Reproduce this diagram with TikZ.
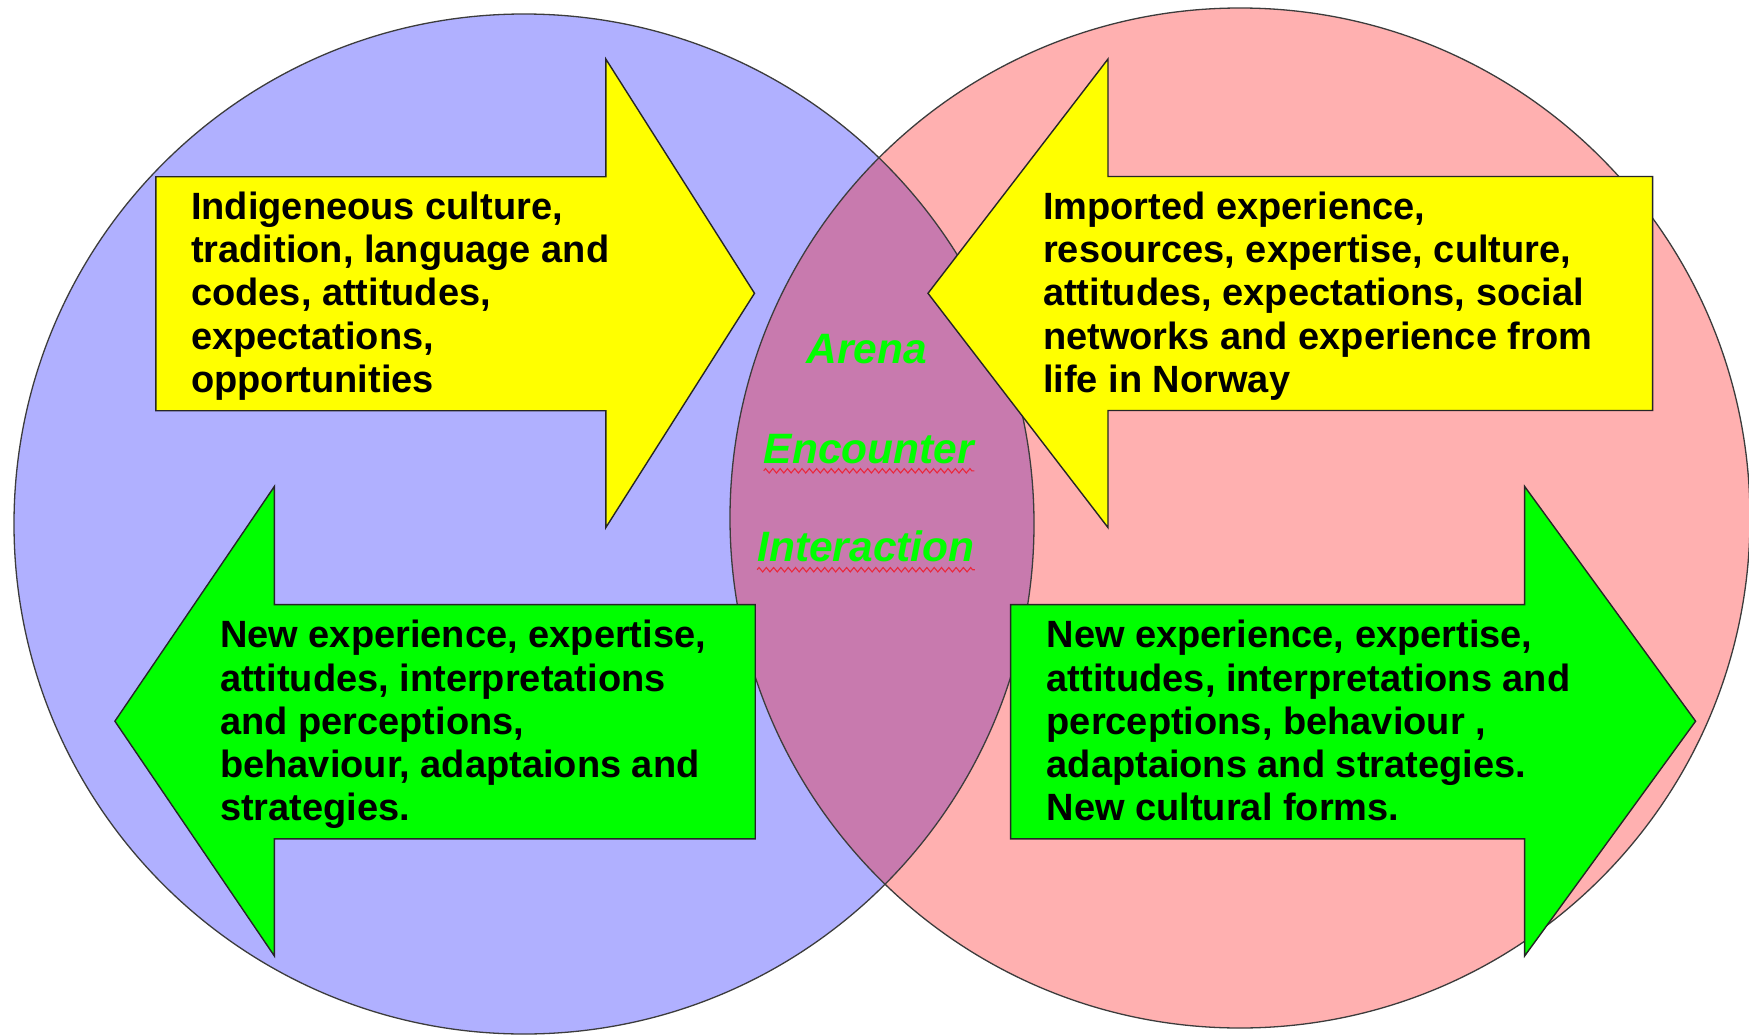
\documentclass[tikz,border=0pt]{standalone}
\usepackage{fontspec}
\setmainfont{Liberation Sans}
\usetikzlibrary{decorations.pathmorphing}
\definecolor{cblue}{RGB}{176,176,255}
\definecolor{cpink}{RGB}{255,176,176}
\definecolor{cmauve}{RGB}{200,122,174}
\definecolor{cyel}{RGB}{255,255,0}
\definecolor{cgreen}{RGB}{0,255,0}
\definecolor{cline}{RGB}{60,60,60}
\definecolor{cwave}{RGB}{235,40,60}
\tikzset{
  ring/.style={draw=cline,line width=1.3pt},
  yarrow/.style={fill=cyel,draw=black!85,line width=1.4pt,line join=miter},
  garrow/.style={fill=cgreen,draw=black!85,line width=1.4pt,line join=miter},
  boxtext/.style={anchor=base west,inner sep=0pt,align=left,
    font=\bfseries\fontsize{38}{43.3}\selectfont},
  midword/.style={anchor=base,inner sep=0pt,text=cgreen,
    font=\bfseries\itshape\fontsize{42.5}{48}\selectfont},
  wavy/.style={draw=cwave,line width=1.1pt,decorate,
    decoration={zigzag,segment length=7.3pt,amplitude=2.2pt}}
}
\begin{document}
\begin{tikzpicture}[x=1pt,y=-1pt]
\useasboundingbox[fill=white] (0,0) rectangle (1749,1036);
% circles
\fill[cblue] (524,524) circle (510);
\fill[cpink] (1240,518) circle (510);
\begin{scope}
  \clip (524,524) circle (510);
  \fill[cmauve] (1240,518) circle (510);
\end{scope}
\draw[ring] (524,524) circle (510);
\draw[ring] (1240,518) circle (510);
% arrows
\draw[yarrow] (155.8,176.7) -- (605.8,176.7) -- (605.8,59) -- (754.5,293.3)
  -- (605.8,527.6) -- (605.8,410.7) -- (155.8,410.7) -- cycle;
\draw[yarrow] (1652.6,176.5) -- (1108,176.5) -- (1108,59) -- (928,293.3)
  -- (1108,527.6) -- (1108,410.5) -- (1652.6,410.5) -- cycle;
\draw[garrow] (755.2,604.6) -- (274.4,604.6) -- (274.4,486.4) -- (114.9,721.2)
  -- (274.4,956) -- (274.4,838.9) -- (755.2,838.9) -- cycle;
\draw[garrow] (1010.6,604.6) -- (1524.6,604.6) -- (1524.6,486.4) -- (1695.6,721.2)
  -- (1524.6,956) -- (1524.6,838.9) -- (1010.6,838.9) -- cycle;
% texts (anchor = baseline of the last line)
\node[boxtext] (t1) at (191,392.5) {Indigeneous culture,\\tradition, language and\\codes, attitudes,\\expectations,\\opportunities};
\node[boxtext] (t2) at (1043,392.5) {Imported experience,\\resources, expertise, culture,\\attitudes, expectations, social\\networks and experience from\\life in Norway};
\node[boxtext] (t3) at (220,820.9) {New experience, expertise,\\attitudes, interpretations\\and perceptions,\\behaviour, adaptaions and\\strategies.};
\node[boxtext] (t4) at (1046.5,820.9) {New experience, expertise,\\attitudes, interpretations and\\perceptions, behaviour ,\\adaptaions and strategies.\\New cultural forms.};
% middle words
\node[midword] (arena) at (866.7,363.3) {Arena};
\node[midword] (enc) at (869,463.3) {Encounter};
\node[midword] (inter) at (866,561.7) {Interaction};
\draw[wavy] ([yshift=-7.5pt]enc.base west) -- ([yshift=-7.5pt]enc.base east);
\draw[wavy] ([yshift=-8pt]inter.base west) -- ([yshift=-8pt]inter.base east);
\end{tikzpicture}
\end{document}
